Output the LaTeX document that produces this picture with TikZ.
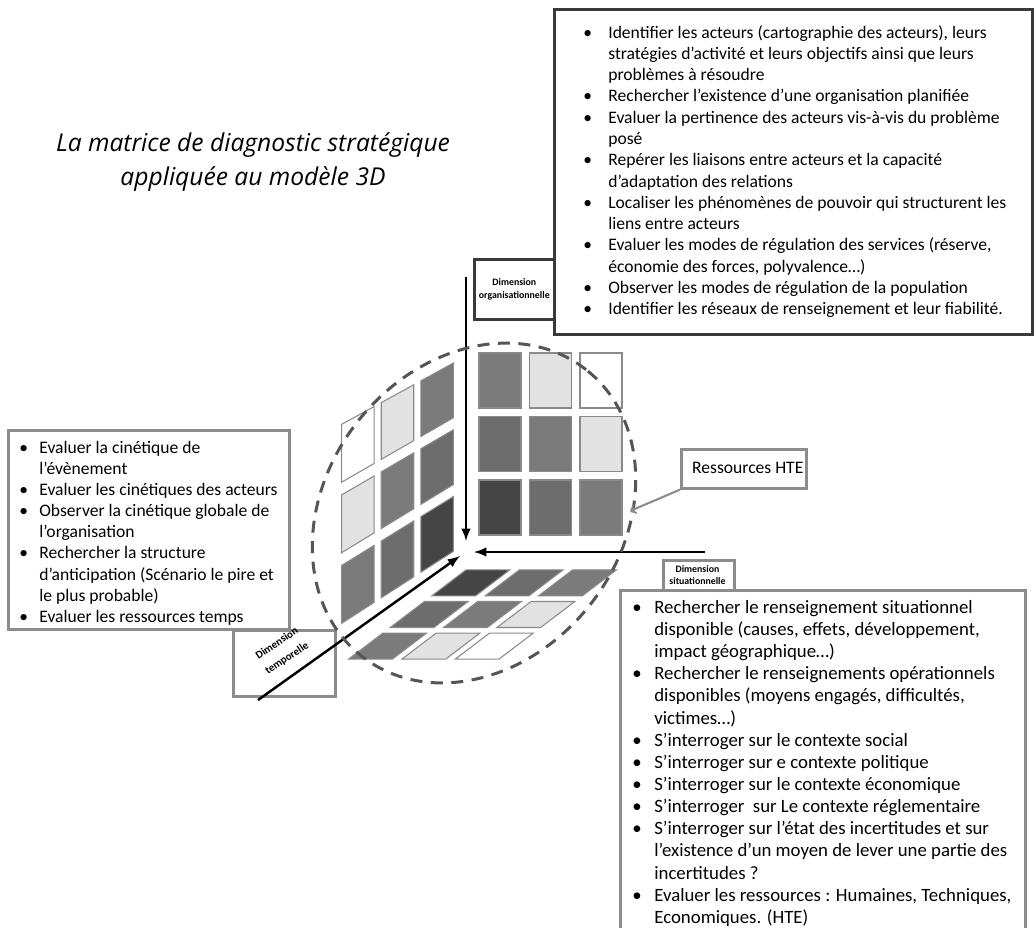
\documentclass[tikz,border=0pt]{standalone}
\usepackage{fontspec}
\setmainfont{Carlito}
\newfontfamily\titlefont{Open Sans}
\usepackage{xcolor}
\usepackage{tikz}
\usetikzlibrary{shapes,arrows,positioning,fit,backgrounds,calc}

\definecolor{cellDark}{HTML}{454545}
\definecolor{cellMid}{HTML}{7B7B7B}
\definecolor{cellMidB}{HTML}{6D6D6D}
\definecolor{cellLight}{HTML}{E2E2E2}
\definecolor{cellEdge}{HTML}{8A8A8A}
\definecolor{boxDark}{HTML}{3A3A3A}
\definecolor{boxGrey}{HTML}{8C8C8C}
\definecolor{zoneGrey}{HTML}{555555}

\newcommand{\bul}[1][0.5cm]{\makebox[#1][l]{\textbullet}}
\newcommand{\ind}[1][0.5cm]{\hspace*{#1}}

% one cell of a skewed face: #1 face, #2 column, #3 row, #4 fill
\newcommand{\facecell}[4]{%
  \pgfmathsetmacro\ua{#2/3+0.03}\pgfmathsetmacro\ub{(#2+1)/3-0.03}%
  \pgfmathsetmacro\va{#3/3+0.03}\pgfmathsetmacro\vb{(#3+1)/3-0.03}%
  \coordinate (t0) at ($(#1TL)!\ua!(#1TR)$);
  \coordinate (t1) at ($(#1TL)!\ub!(#1TR)$);
  \coordinate (b0) at ($(#1BL)!\ua!(#1BR)$);
  \coordinate (b1) at ($(#1BL)!\ub!(#1BR)$);
  \filldraw[cell, fill=#4] ($(t0)!\va!(b0)$) -- ($(t1)!\va!(b1)$)
    -- ($(t1)!\vb!(b1)$) -- ($(t0)!\vb!(b0)$) -- cycle;
}

\begin{document}
\begin{tikzpicture}[
    x=0.02cm, y=-0.02cm,
    box/.style={draw, fill=white, line width=1.5pt, inner sep=0pt, anchor=north west},
    darkbox/.style={box, draw=boxDark},
    greybox/.style={box, draw=boxGrey},
    list/.style={align=left, inner sep=0pt, anchor=north west},
    dimlabel/.style={font=\fontsize{5.6}{7}\selectfont\bfseries, align=center, inner sep=0pt},
    cell/.style={draw=cellEdge, line width=0.6pt},
    axis/.style={-latex, line width=1.4pt},
    zone/.style={ellipse, draw=zoneGrey, line width=1.7pt, dash pattern=on 0.24cm off 0.17cm, inner sep=0pt},
    hteArrow/.style={->, draw=boxGrey, line width=1.2pt}
]
    \useasboundingbox (0,0) rectangle (1035,927);
    \clip (0,0) rectangle (1035,927);

    % Title
    \node[font=\fontsize{14}{19.4}\titlefont\itshape, align=center] (title) at (253,162)
        {La matrice de diagnostic stratégique\\appliquée au modèle 3D};

    % Organisational dimension
    \node[darkbox, minimum width=9.56cm, minimum height=6.5cm] (orgbox) at (553,8) {};
    \node[list, font=\fontsize{10}{12.1}\selectfont] (orglist) at (583,25) {%
        \bul Identifier les acteurs (cartographie des acteurs), leurs\\
        \ind stratégies d’activité et leurs objectifs ainsi que leurs\\
        \ind problèmes à résoudre\\
        \bul Rechercher l’existence d’une organisation planifiée\\
        \bul Evaluer la pertinence des acteurs vis-à-vis du problème\\
        \ind posé\\
        \bul Repérer les liaisons entre acteurs et la capacité\\
        \ind d’adaptation des relations\\
        \bul Localiser les phénomènes de pouvoir qui structurent les\\
        \ind liens entre acteurs\\
        \bul Evaluer les modes de régulation des services (réserve,\\
        \ind économie des forces, polyvalence…)\\
        \bul Observer les modes de régulation de la population\\
        \bul Identifier les réseaux de renseignement et leur fiabilité.};
    \node[darkbox, minimum width=1.6cm, minimum height=1.2cm] (orgdim) at (473,258) {};
    \node[dimlabel] (orglbl) at (orgdim.center) {Dimension\\organisationnelle};

    % Temporal dimension
    \node[greybox, minimum width=5.62cm, minimum height=3.98cm] (tempbox) at (7,429) {};
    \node[list, font=\fontsize{10}{12}\selectfont] (templist) at (19,441) {%
        \bul[0.4cm]Evaluer la cinétique de\\
        \ind[0.4cm]l’évènement\\
        \bul[0.4cm]Evaluer les cinétiques des acteurs\\
        \bul[0.4cm]Observer la cinétique globale de\\
        \ind[0.4cm]l’organisation\\
        \bul[0.4cm]Rechercher la structure\\
        \ind[0.4cm]d’anticipation (Scénario le pire et\\
        \ind[0.4cm]le plus probable)\\
        \bul[0.4cm]Evaluer les ressources temps};
    \node[greybox, minimum width=2.04cm, minimum height=1.32cm] (tempdim) at (232,629) {};

    % Cube faces
    \foreach \shade [count=\k from 0] in {cellMid,cellLight,white,cellMidB,cellMid,cellLight,cellDark,cellMidB,cellMid} {
        \pgfmathtruncatemacro\col{mod(\k,3)}
        \pgfmathtruncatemacro\row{div(\k,3)}
        \filldraw[cell, fill=\shade] (479+50.5*\col,353+63.5*\row) rectangle ++(42,55);
    }
    \coordinate (lfTL) at (338,420);
    \coordinate (lfTR) at (457,355);
    \coordinate (lfBL) at (338,632);
    \coordinate (lfBR) at (457,555);
    \foreach \shade [count=\k from 0] in {white,cellLight,cellMid,cellLight,cellMid,cellMidB,cellMid,cellMidB,cellDark} {
        \pgfmathtruncatemacro\col{mod(\k,3)}
        \pgfmathtruncatemacro\row{div(\k,3)}
        \facecell{lf}{\col}{\row}{\shade}
    }
    \coordinate (flTL) at (465,567);
    \coordinate (flTR) at (625,567);
    \coordinate (flBL) at (340,662);
    \coordinate (flBR) at (500,662);
    \foreach \shade [count=\k from 0] in {cellDark,cellMidB,cellMid,cellMidB,cellMid,cellLight,cellMid,cellLight,white} {
        \pgfmathtruncatemacro\col{mod(\k,3)}
        \pgfmathtruncatemacro\row{div(\k,3)}
        \facecell{fl}{\col}{\row}{\shade}
    }

    % Axes
    \coordinate (vtop) at (466,277);
    \coordinate (vend) at (466,541);
    \coordinate (hstart) at (705,552);
    \coordinate (hend) at (474,552);
    \coordinate (dstart) at (258,700);
    \coordinate (dend) at (460,556);
    \draw[axis] (vtop) -- (vend);
    \draw[axis] (hstart) -- (hend);
    \draw[axis] (dstart) -- (dend);
    \node[dimlabel, font=\fontsize{6.2}{10.2}\selectfont\bfseries, rotate=34] (templbl) at (282,651) {Dimension\\temporelle};

    % Resource zone
    \node[zone, rotate=52, minimum width=7.28cm, minimum height=5.92cm] (zone) at (474,513) {};
    \node[greybox, minimum width=2.5cm, minimum height=0.78cm] (hte) at (680,448) {};
    \node[font=\fontsize{10}{12}\selectfont, anchor=west] (htelbl) at (686,467.5) {Ressources HTE};
    \coordinate (hteTip) at (630,511);
    \draw[hteArrow] (hte.south west) -- (hteTip);

    % Situational dimension
    \node[greybox, minimum width=1.42cm, minimum height=1cm] (sitdim) at (662,559) {};
    \node[dimlabel] (sitlbl) at (697.5,575) {Dimension\\situationnelle};
    \node[greybox, minimum width=8.1cm, minimum height=7.2cm] (sitbox) at (619,589) {};
    \node[list, font=\fontsize{10.7}{12.6}\selectfont] (sitlist) at (632,600) {%
        \bul[0.44cm]Rechercher le renseignement situationnel\\
        \ind[0.44cm]disponible (causes, effets, développement,\\
        \ind[0.44cm]impact géographique…)\\
        \bul[0.44cm]Rechercher le renseignements opérationnels\\
        \ind[0.44cm]disponibles (moyens engagés, difficultés,\\
        \ind[0.44cm]victimes…)\\
        \bul[0.44cm]S’interroger sur le contexte social\\
        \bul[0.44cm]S’interroger sur e contexte politique\\
        \bul[0.44cm]S’interroger sur le contexte économique\\
        \bul[0.44cm]S’interroger \ sur Le contexte réglementaire\\
        \bul[0.44cm]S’interroger sur l’état des incertitudes et sur\\
        \ind[0.44cm]l’existence d’un moyen de lever une partie des\\
        \ind[0.44cm]incertitudes ?\\
        \bul[0.44cm]Evaluer les ressources : Humaines, Techniques,\\
        \ind[0.44cm]Economiques. (HTE)};
\end{tikzpicture}
\end{document}
